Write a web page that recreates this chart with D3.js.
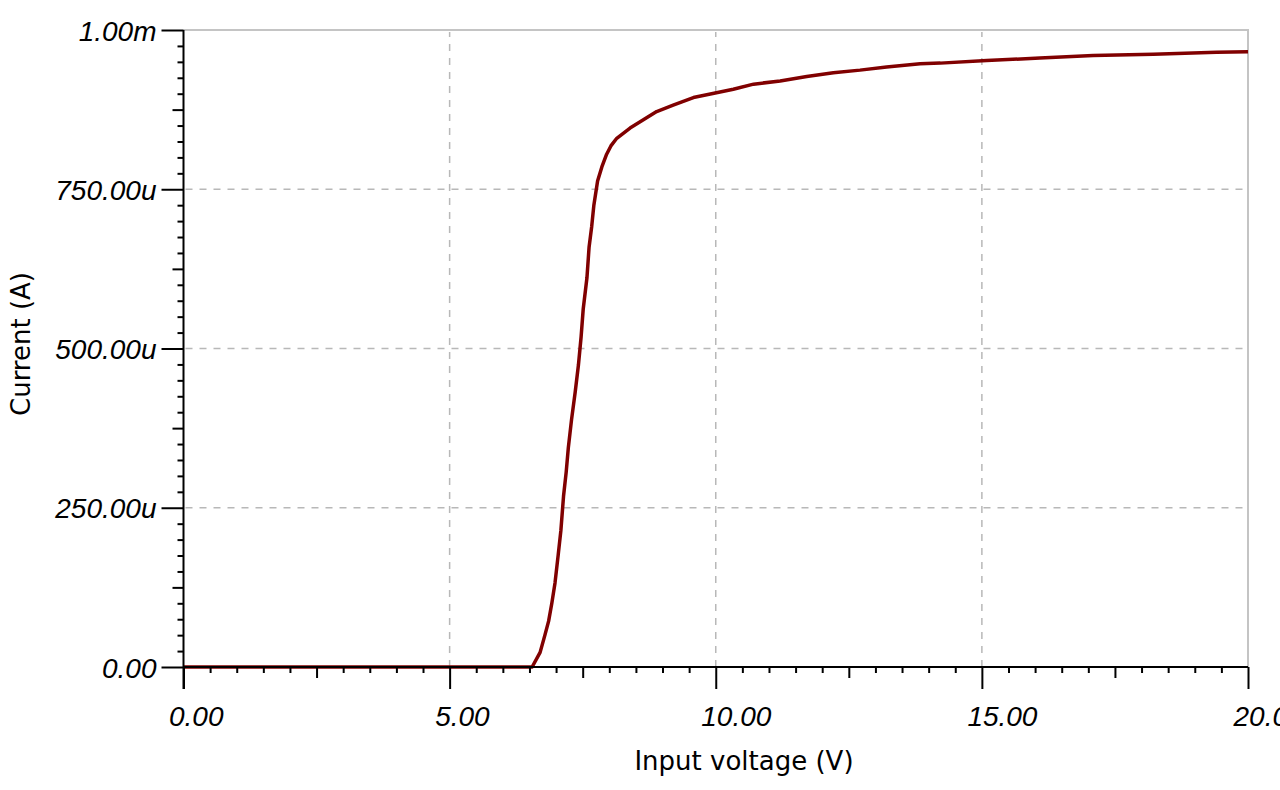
<!DOCTYPE html>
<html>
<head>
<meta charset="utf-8">
<script src="https://cdn.jsdelivr.net/npm/d3@7"></script>
<style>
  html, body { margin: 0; padding: 0; background: #fff; }
  svg { display: block; }
  .tick-label { font-family: "Liberation Sans", Arial, sans-serif; font-style: italic; font-size: 28px; fill: #000; }
  .title { font-family: "DejaVu Sans", sans-serif; font-size: 26px; fill: #000; }
</style>
</head>
<body>
<svg id="chart" width="1280" height="790"></svg>
<script>
// ---- data ----
const voltage = [0, 6.55, 6.70, 6.79, 6.86, 6.92, 6.98, 7.04, 7.09, 7.14, 7.19, 7.23, 7.29, 7.36, 7.42, 7.47, 7.51, 7.58, 7.62, 7.67, 7.71, 7.78, 7.86, 7.95, 8.03, 8.14, 8.39, 8.64, 8.89, 9.20, 9.58, 9.99, 10.33, 10.71, 11.21, 11.71, 12.21, 12.71, 13.21, 13.84, 14.22, 15.09, 16.09, 17.09, 18.22, 19.41, 20.0];
const currentMicroA = [0, 0, 23, 50, 72, 100, 132, 176, 214, 268, 306, 344, 388, 432, 474, 518, 562, 611, 659, 692, 725, 763, 785, 805, 818, 830, 846, 859, 872, 882, 894, 901, 907, 915, 920, 927, 933, 937, 942, 947, 948, 952, 956, 960, 962, 965, 966];
const xTicks = [0, 5, 10, 15, 20];
const xTickLabels = ["0.00", "5.00", "10.00", "15.00", "20.00"];
const yTicks = [0, 250, 500, 750, 1000];
const yTickLabels = ["0.00", "250.00u", "500.00u", "750.00u", "1.00m"];
const xTitle = "Input voltage (V)";
const yTitle = "Current (A)";

// ---- layout ----
const pL = 183.5, pR = 1248, pT = 30, pB = 667;
const svg = d3.select("#chart");
const x = d3.scaleLinear().domain([0, 20]).range([pL, pR]);
const y = d3.scaleLinear().domain([0, 1000]).range([pB, pT]);

// border (top/right)
svg.append("path")
  .attr("d", `M${pL},${pT}H${pR}V${pB}`)
  .attr("fill", "none").attr("stroke", "#c4c4c4").attr("stroke-width", 2);

// grid
const grid = svg.append("g").attr("stroke", "#b8b8b8").attr("stroke-width", 1.5).attr("stroke-dasharray", "7,7");
grid.selectAll("line.v").data(xTicks.filter(d => d > 0 && d < 20)).join("line").attr("class", "v")
  .attr("x1", d => x(d)).attr("x2", d => x(d)).attr("y1", pB).attr("y2", pT + 2);
grid.selectAll("line.h").data(yTicks.filter(d => d > 0 && d < 1000)).join("line").attr("class", "h")
  .attr("y1", d => y(d)).attr("y2", d => y(d)).attr("x1", pL + 2).attr("x2", pR);

// curve
const pts = voltage.map((v, i) => [v, currentMicroA[i]]);
svg.append("path").datum(pts)
  .attr("d", d3.line().x(d => x(d[0])).y(d => y(d[1])))
  .attr("fill", "none").attr("stroke", "#800000").attr("stroke-width", 3.5).attr("stroke-linejoin", "round");

// minor ticks
const xMinor = d3.range(0, 20.001, 0.5).filter(v => v % 5 !== 0);
const xMid = xMinor.filter(v => Math.abs(v % 5 - 2.5) < 1e-9);
const xSmall = xMinor.filter(v => !xMid.includes(v));
function styleAxis(g) {
  g.select(".domain").remove();
  g.selectAll("line").attr("stroke", "#000").attr("stroke-width", 2);
}
svg.append("g").attr("transform", `translate(0,${pB})`)
  .call(d3.axisBottom(x).tickValues(xSmall).tickSize(6).tickFormat("")).call(styleAxis);
svg.append("g").attr("transform", `translate(0,${pB})`)
  .call(d3.axisBottom(x).tickValues(xMid).tickSize(11).tickFormat("")).call(styleAxis);

const yMinor = d3.range(0, 1000.001, 25).filter(v => v % 250 !== 0);
const yMid = yMinor.filter(v => v % 250 === 125);
const ySmall = yMinor.filter(v => v % 250 !== 125);
svg.append("g").attr("transform", `translate(${pL},0)`)
  .call(d3.axisLeft(y).tickValues(ySmall).tickSize(6).tickFormat("")).call(styleAxis);
svg.append("g").attr("transform", `translate(${pL},0)`)
  .call(d3.axisLeft(y).tickValues(yMid).tickSize(11).tickFormat("")).call(styleAxis);

// major axes
const xAxis = svg.append("g").attr("transform", `translate(0,${pB})`)
  .call(d3.axisBottom(x).tickValues(xTicks).tickSize(22).tickFormat((d, i) => xTickLabels[i]));
xAxis.attr("font-family", null).attr("font-size", null);
xAxis.select(".domain").attr("stroke", "#000").attr("stroke-width", 2).attr("d", `M${pL},0H${pR}`);
xAxis.selectAll("line").attr("stroke", "#000").attr("stroke-width", 2);
xAxis.selectAll("text").attr("class", "tick-label").attr("text-anchor", "start")
  .attr("x", -15).attr("y", 59).attr("dy", null).attr("fill", "#000");

const yAxis = svg.append("g").attr("transform", `translate(${pL},0)`)
  .call(d3.axisLeft(y).tickValues(yTicks).tickSize(22).tickFormat((d, i) => yTickLabels[i]));
yAxis.attr("font-family", null).attr("font-size", null);
yAxis.select(".domain").attr("stroke", "#000").attr("stroke-width", 2).attr("d", `M0,${pB + 22}V${pT}`);
yAxis.selectAll("line").attr("stroke", "#000").attr("stroke-width", 2);
yAxis.selectAll("text").attr("class", "tick-label").attr("text-anchor", "end")
  .attr("x", -27).attr("dy", "0.36em").attr("fill", "#000");

// titles
svg.append("text").attr("class", "title").attr("x", 744).attr("y", 770)
  .attr("text-anchor", "middle").text(xTitle);
svg.append("text").attr("class", "title")
  .attr("transform", `translate(30,344) rotate(-90)`)
  .attr("text-anchor", "middle").text(yTitle);
</script>
</body>
</html>
